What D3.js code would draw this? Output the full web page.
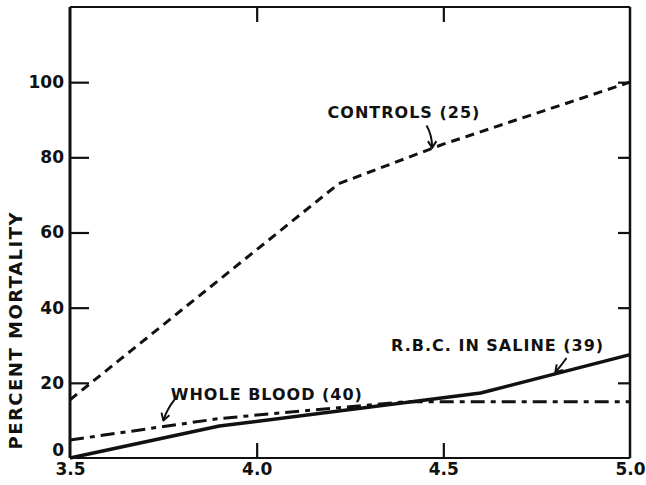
<!DOCTYPE html>
<html>
<meta charset="utf-8">
<title>Percent mortality</title>
<style>
body { margin: 0; background: #fff; }
svg { display: block; }
text { font-family: "DejaVu Sans", sans-serif; font-weight: bold; fill: #111; }
.axis path { display: none; }
.axis line { stroke: #111; stroke-width: 2.2; }
.axis text { font-size: 17px; }
.frame { fill: none; stroke: #111; }
.curve { fill: none; stroke: #111; stroke-linejoin: round; }
.lbl { font-size: 16px; letter-spacing: 1px; }
</style>
<svg></svg>
<script src="https://d3js.org/d3.v7.min.js"></script>
<script>

var xTicks = [3.5, 4.0, 4.5, 5.0];
var yTicks = [0, 20, 40, 60, 80, 100];

// percent mortality at each x value
var controlsX = [3.5, 4.22, 4.5, 5.0];
var controlsY = [15.5, 73, 83.5, 100];
var rbcX = [3.5, 3.9, 4.6, 5.0];
var rbcY = [0, 8.5, 17.3, 27.5];
var bloodX = [3.5, 3.9, 4.4, 5.0];
var bloodY = [4.8, 10.5, 15, 15];

var svg = d3.select("svg").attr("width", 646).attr("height", 485);

var margin = {top: 7, right: 16, bottom: 27, left: 70},
    width = 646 - margin.left - margin.right,
    height = 485 - margin.top - margin.bottom;

var x = d3.scaleLinear().domain([3.5, 5.0]).range([0, width]);
var y = d3.scaleLinear().domain([0, 120]).range([height, 0]);

var g = svg.append("g")
    .attr("transform", "translate(" + margin.left + "," + margin.top + ")");

// frame
g.append("line").attr("class", "frame").attr("x1", 0).attr("x2", 0).attr("y1", 0).attr("y2", height).attr("stroke-width", 3);
g.append("line").attr("class", "frame").attr("x1", width).attr("x2", width).attr("y1", 0).attr("y2", height).attr("stroke-width", 2.5);
g.append("line").attr("class", "frame").attr("x1", 0).attr("x2", width).attr("y1", 0).attr("y2", 0).attr("stroke-width", 2);
g.append("line").attr("class", "frame").attr("x1", 0).attr("x2", width).attr("y1", height).attr("y2", height).attr("stroke-width", 2);

// ticks
g.append("g").attr("class", "axis")
    .call(d3.axisLeft(y).tickValues(yTicks).tickSize(-19).tickPadding(6).tickFormat(d3.format("d")));
g.append("g").attr("class", "axis")
    .attr("transform", "translate(" + width + ",0)")
    .call(d3.axisRight(y).tickValues(yTicks.slice(1)).tickSize(-12).tickFormat(""));
g.append("g").attr("class", "axis")
    .attr("transform", "translate(0," + height + ")")
    .call(d3.axisBottom(x).tickValues(xTicks).tickSize(-15).tickPadding(5).tickFormat(d3.format(".1f")));
g.append("g").attr("class", "axis")
    .call(d3.axisTop(x).tickValues([4.0, 4.5]).tickSize(-15).tickFormat(""));

// the ticks at the axis ends are hidden under the frame
g.selectAll(".axis .tick line").filter(function(d) { return d === 3.5 || d === 5.0 || d === 0; }).remove();
// the zero sits a little above the corner
g.selectAll(".axis .tick text").filter(function(d) { return d === 0; }).attr("dy", "-0.15em");

var line = d3.line().x(function(d) { return x(d[0]); }).y(function(d) { return y(d[1]); });
var zip = function(a, b) { return a.map(function(v, i) { return [v, b[i]]; }); };

g.append("path").attr("class", "curve")
    .attr("d", line(zip(controlsX, controlsY)))
    .attr("stroke-width", 3).attr("stroke-dasharray", "9,6");
g.append("path").attr("class", "curve")
    .attr("d", line(zip(bloodX, bloodY)))
    .attr("stroke-width", 3).attr("stroke-dasharray", "14,6,5,6");
g.append("path").attr("class", "curve")
    .attr("d", line(zip(rbcX, rbcY)))
    .attr("stroke-width", 3.5);

// labels with arrows
g.append("text").attr("class", "lbl").attr("x", x(4.19)).attr("y", y(90.5)).text("CONTROLS (25)");
g.append("text").attr("class", "lbl").attr("x", x(4.36)).attr("y", y(28.5)).text("R.B.C. IN SALINE (39)");
g.append("text").attr("class", "lbl").attr("x", x(3.77)).attr("y", y(15.5)).text("WHOLE BLOOD (40)");

// small hand-drawn arrows: start, bend, tip
var arrow = function(x1, y1, cx, cy, x2, y2) {
  g.append("path").attr("class", "curve").attr("stroke-width", 2)
      .attr("d", "M" + x1 + "," + y1 + "Q" + cx + "," + cy + " " + x2 + "," + y2);
  var a = Math.atan2(y2 - cy, x2 - cx);
  var p = function(da) { return (x2 - 8 * Math.cos(a + da)) + "," + (y2 - 8 * Math.sin(a + da)); };
  g.append("path").attr("class", "curve").attr("stroke-width", 2)
      .attr("d", "M" + p(0.55) + "L" + x2 + "," + y2 + "L" + p(-0.55));
};
arrow(x(4.455), y(88.5), x(4.47), y(86), x(4.47), y(82.5));
arrow(x(4.83), y(26.6), x(4.815), y(24.5), x(4.80), y(22.8));
arrow(x(3.78), y(15.5), x(3.76), y(13), x(3.75), y(10));

// y label
svg.append("text")
    .attr("transform", "translate(22," + (margin.top + y(34)) + ") rotate(-90)")
    .attr("text-anchor", "middle")
    .attr("font-size", 18)
    .attr("letter-spacing", 1.5)
    .text("PERCENT MORTALITY");

</script>
</html>
